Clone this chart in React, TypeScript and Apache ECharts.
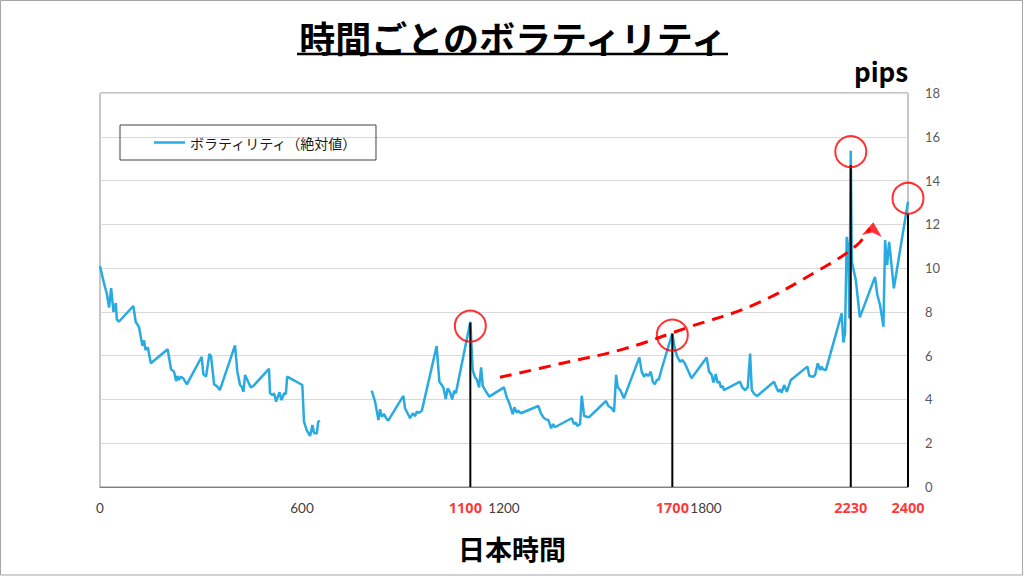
import React, { useEffect, useRef } from "react";
import * as echarts from "echarts";

// ---- data ----
const seriesName = "ボラティリティ（絶対値）";
const titleText = "時間ごとのボラティリティ";
const xAxisName = "日本時間";
const yUnit = "pips";

// time (HHMM-like scale) and volatility values, morning segment
const morningX = [0, 12, 20, 27, 33, 40, 47, 50, 56, 99, 106, 116, 126, 131, 135, 142, 151, 201, 211, 220, 226, 230, 234, 240, 247, 258, 302, 307, 315, 325, 330, 339, 347, 356, 401, 408, 416, 421, 426, 431, 440, 448, 455, 502, 505, 512, 517, 523, 533, 539, 547, 552, 556, 601, 606, 614, 624, 631, 636, 644, 648, 653];
const morningY = [10.1, 9.3, 8.85, 8.2, 9.08, 8.0, 8.4, 7.66, 7.55, 8.27, 7.55, 7.3, 6.45, 6.7, 6.26, 6.38, 5.65, 6.29, 5.38, 5.27, 4.84, 5.07, 4.89, 5.04, 4.97, 4.69, 5.95, 5.16, 5.04, 6.08, 5.95, 4.69, 4.61, 4.43, 6.47, 5.27, 4.66, 4.58, 4.35, 5.12, 4.81, 4.55, 4.61, 5.4, 4.28, 4.2, 4.28, 3.9, 4.33, 3.97, 4.28, 4.25, 5.04, 4.66, 2.98, 2.6, 2.33, 2.83, 2.45, 2.45, 2.98, 3.03];

// afternoon / evening segment
const laterX = [807, 817, 827, 832, 837, 844, 850, 856, 901, 906, 921, 929, 936, 941, 948, 956, 1000, 1008, 1015, 1020, 1027, 1033, 1040, 1046, 1052, 1057, 1100, 1107, 1114, 1119, 1126, 1132, 1137, 1144, 1156, 1200, 1208, 1216, 1226, 1231, 1238, 1242, 1250, 1302, 1309, 1317, 1324, 1332, 1340, 1346, 1351, 1401, 1408, 1414, 1418, 1426, 1431, 1438, 1446, 1452, 1503, 1510, 1520, 1527, 1533, 1538, 1545, 1550, 1556, 1602, 1609, 1616, 1622, 1629, 1636, 1642, 1648, 1654, 1660, 1668, 1700, 1708, 1715, 1723, 1730, 1738, 1747, 1757, 1802, 1809, 1817, 1822, 1829, 1834, 1840, 1844, 1850, 1853, 1901, 1908, 1916, 1924, 1931, 1936, 1943, 1952, 2002, 2010, 2015, 2020, 2025, 2032, 2040, 2052, 2101, 2107, 2119, 2124, 2132, 2139, 2143, 2148, 2156, 2203, 2208, 2213, 2218, 2223, 2226, 2230, 2233, 2245, 2257, 2302, 2309, 2317, 2327, 2332, 2338, 2344, 2358, 2400];
const laterY = [4.4, 3.9, 3.06, 3.55, 3.21, 3.33, 3.14, 3.03, 4.16, 3.6, 3.14, 3.37, 3.24, 3.44, 3.39, 3.49, 6.44, 4.81, 4.66, 4.55, 4.02, 4.51, 4.31, 4.0, 4.4, 4.28, 7.55, 5.34, 5.01, 4.92, 4.55, 5.47, 4.61, 4.43, 4.13, 4.55, 4.1, 3.82, 3.33, 3.64, 3.39, 3.49, 3.37, 3.7, 3.39, 3.18, 3.09, 3.06, 2.68, 2.88, 2.73, 3.14, 2.88, 2.94, 2.79, 2.88, 4.17, 3.24, 3.21, 3.18, 3.93, 3.7, 3.6, 3.44, 5.12, 4.55, 4.43, 4.28, 4.05, 5.92, 5.27, 5.04, 5.16, 5.07, 5.27, 4.81, 4.7, 4.89, 4.92, 5.38, 7.02, 6.26, 5.95, 5.72, 5.8, 5.62, 5.31, 4.97, 5.92, 5.27, 5.12, 4.77, 5.16, 4.77, 4.81, 4.55, 4.61, 4.43, 4.81, 4.55, 4.43, 4.55, 6.1, 4.43, 4.25, 4.16, 4.81, 4.51, 4.35, 4.46, 4.31, 4.66, 4.35, 4.89, 5.5, 5.07, 5.04, 5.12, 5.65, 5.34, 5.5, 5.38, 5.34, 7.93, 6.6, 7.02, 11.43, 10.75, 7.7, 15.36, 10.3, 9.46, 7.75, 9.6, 8.77, 8.31, 7.32, 11.28, 10.14, 11.2, 9.08, 13.03];

const gapX = 730; // no data between the two segments

// highlighted times
const markTimes = [1100, 1700, 2230, 2400];
const markTimeLabels = ["1100", "1700", "2230", "2400"];
const markLineTops = [7.5, 7.0, 14.7, 12.5];
const circleY = [7.35, 6.94, 15.32, 13.19];

// red dashed trend curve
const trendX = [1188, 1366, 1554, 1752, 1940, 2139, 2248, 2287];
const trendY = [5.01, 5.63, 6.3, 7.32, 8.31, 9.94, 11.05, 11.82];
const arrowPoint = [2297, 12.1];

// axes
const xMin = 0;
const xMax = 2400;
const xInterval = 600;
const yMin = 0;
const yMax = 18;
const yInterval = 2;

export default function App() {
  const ref = useRef<HTMLDivElement>(null);

  useEffect(() => {
    if (!ref.current) return;
    const chart = echarts.init(ref.current, null, { renderer: "svg" });

    const mainData: any[] = [];
    morningX.forEach((x, i) => mainData.push([x, morningY[i]]));
    mainData.push([gapX, null]);
    laterX.forEach((x, i) => mainData.push([x, laterY[i]]));

    const vData: any[] = [];
    markTimes.forEach((x, i) => {
      vData.push([x, 0]);
      vData.push([x, markLineTops[i]]);
      vData.push([x, null]);
    });

    const trendData = trendX.map((x, i) => [x, trendY[i]]);

    const cjk = "'Noto Sans CJK JP', 'Noto Sans', sans-serif";
    const num = "Lato, 'Noto Sans', sans-serif";
    const numBold = "'Open Sans', 'Noto Sans', sans-serif";

    chart.setOption({
      animation: false,
      backgroundColor: "#ffffff",
      grid: {
        left: 100,
        right: 116,
        top: 93,
        bottom: 89,
        show: true,
        borderColor: "#8c8c8c",
        borderWidth: 1,
      },
      legend: {
        data: [{ name: seriesName, icon: "rect" }],
        left: 120,
        top: 125,
        padding: [10, 18, 10, 34],
        borderColor: "#404040",
        borderWidth: 1,
        itemWidth: 31,
        itemHeight: 2.5,
        itemGap: 5,
        textStyle: {
          fontSize: 14,
          lineHeight: 15,
          color: "#1a1a1a",
          fontFamily: cjk,
        },
      },
      xAxis: {
        type: "value",
        min: xMin,
        max: xMax,
        interval: xInterval,
        axisLine: { show: true, lineStyle: { color: "#7f7f7f", width: 1 } },
        axisTick: { show: false },
        splitLine: { show: false },
        axisLabel: {
          color: "#404040",
          fontSize: 13.5,
          fontFamily: num,
          margin: 14,
          formatter: (v: number) => (v === xMax ? "" : String(v)),
        },
      },
      yAxis: {
        type: "value",
        position: "right",
        min: yMin,
        max: yMax,
        interval: yInterval,
        axisLine: { show: false },
        axisTick: { show: false },
        splitLine: { show: true, lineStyle: { color: "#d9d9d9", width: 1 } },
        axisLabel: {
          color: "#595959",
          fontSize: 13,
          fontFamily: num,
          margin: 17,
        },
      },
      series: [
        {
          name: seriesName,
          type: "line",
          data: mainData,
          symbol: "none",
          connectNulls: false,
          lineStyle: { color: "#29aae1", width: 2.5 },
          itemStyle: { color: "#29aae1" },
          z: 2,
        },
        {
          name: "vlines",
          type: "line",
          data: vData,
          symbol: "none",
          connectNulls: false,
          lineStyle: { color: "#000000", width: 2 },
          z: 3,
          silent: true,
        },
        {
          name: "trend",
          type: "line",
          data: trendData,
          smooth: 0.4,
          symbol: "none",
          lineStyle: { color: "#ff0000", width: 3, type: [12, 8] },
          z: 4,
          silent: true,
        },
        {
          name: "arrow",
          type: "scatter",
          data: [arrowPoint],
          symbol: "arrow",
          symbolSize: [15, 14],
          symbolRotate: -6,
          itemStyle: { color: "#ff0000" },
          z: 5,
          silent: true,
        },
        {
          name: "circles",
          type: "scatter",
          data: markTimes.map((x, i) => [x, circleY[i]]),
          symbol: "circle",
          symbolSize: 31,
          itemStyle: {
            color: "rgba(0,0,0,0)",
            borderColor: "#ff0000",
            borderWidth: 2,
          },
          z: 6,
          silent: true,
        },
        {
          name: "redLabels",
          type: "scatter",
          data: markTimes.map((x, i) => ({
            value: [x, 0],
            label: { offset: i === 0 ? [-5, 0] : [0, 0] },
          })),
          symbolSize: 1,
          itemStyle: { color: "rgba(0,0,0,0)" },
          label: {
            show: true,
            position: "bottom",
            distance: 12,
            formatter: (p: any) => markTimeLabels[p.dataIndex],
            color: "#ff0000",
            fontWeight: "bold",
            fontSize: 14.5,
            fontFamily: numBold,
          },
          z: 6,
          silent: true,
        },
      ],
      graphic: [
        {
          type: "rect",
          shape: { x: 0.5, y: 0.5, width: 1022, height: 574.5 },
          style: { fill: "none", stroke: "#a6a6a6", lineWidth: 1 },
          silent: true,
        },
        {
          type: "text",
          x: 513,
          y: 37,
          style: {
            text: titleText,
            fill: "#000000",
            font: `bold 36px ${cjk}`,
            textAlign: "center",
            textVerticalAlign: "middle",
          },
        },
        {
          type: "line",
          shape: { x1: 297, y1: 54, x2: 728, y2: 54 },
          style: { stroke: "#000000", lineWidth: 2.5 },
        },
        {
          type: "text",
          x: 881,
          y: 70,
          style: {
            text: yUnit,
            fill: "#000000",
            font: `bold 26px ${cjk}`,
            textAlign: "center",
            textVerticalAlign: "middle",
          },
        },
        {
          type: "text",
          x: 512,
          y: 548,
          style: {
            text: xAxisName,
            fill: "#000000",
            font: `bold 27px ${cjk}`,
            textAlign: "center",
            textVerticalAlign: "middle",
          },
        },
      ],
    });

    return () => chart.dispose();
  }, []);

  return (
    <div
      ref={ref}
      style={{
        position: "absolute",
        left: 0,
        top: 0,
        width: 1024,
        height: 576,
        background: "#ffffff",
      }}
    />
  );
}
